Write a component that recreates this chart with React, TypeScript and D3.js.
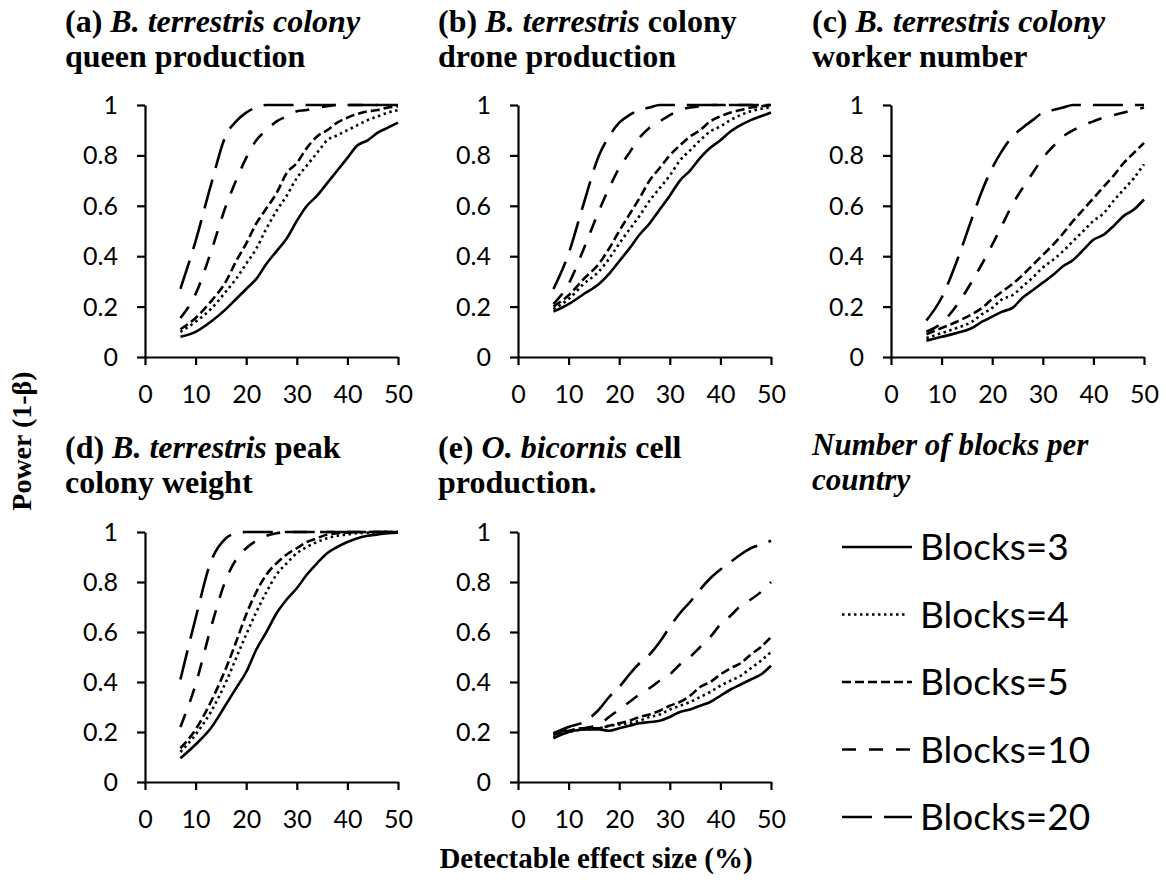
import React, { useEffect, useRef } from "react";
import * as d3 from "d3";

// effect sizes (%) at which power was read
const effectSizes = [7, 10, 13, 16, 18, 20, 22, 24, 26, 28, 30, 32, 34, 36, 38, 40, 42, 44, 46, 48, 50];

const seriesNames = ["Blocks=3", "Blocks=4", "Blocks=5", "Blocks=10", "Blocks=20"];
const xTicks = [0, 10, 20, 30, 40, 50];
const yTicks = [0, 0.2, 0.4, 0.6, 0.8, 1];

// (a) queen production: Blocks 3,4,5,10,20
const queenPower = [
  [0.08, 0.1, 0.14, 0.19, 0.23, 0.27, 0.31, 0.37, 0.42, 0.47, 0.54, 0.6, 0.64, 0.69, 0.74, 0.79, 0.84, 0.86, 0.89, 0.91, 0.93],
  [0.1, 0.14, 0.19, 0.26, 0.31, 0.37, 0.43, 0.51, 0.58, 0.64, 0.71, 0.76, 0.81, 0.86, 0.88, 0.9, 0.92, 0.94, 0.955, 0.97, 0.98],
  [0.11, 0.155, 0.22, 0.3, 0.38, 0.45, 0.53, 0.59, 0.65, 0.73, 0.77, 0.83, 0.875, 0.9, 0.93, 0.95, 0.965, 0.975, 0.98, 0.99, 0.995],
  [0.155, 0.25, 0.415, 0.6, 0.7, 0.79, 0.86, 0.9, 0.935, 0.955, 0.975, 0.98, 0.99, 0.995, 1, 1, 1, 1, 1, 1, 1],
  [0.27, 0.46, 0.68, 0.88, 0.935, 0.97, 0.99, 1, 1, 1, 1, 1, 1, 1, 1, 1, 1, 1, 1, 1, 1],
];

// (b) drone production
const dronePower = [
  [0.18, 0.21, 0.25, 0.29, 0.33, 0.38, 0.43, 0.485, 0.53, 0.585, 0.64, 0.7, 0.74, 0.79, 0.83, 0.86, 0.895, 0.92, 0.94, 0.955, 0.97],
  [0.19, 0.23, 0.29, 0.34, 0.39, 0.45, 0.505, 0.56, 0.62, 0.67, 0.72, 0.78, 0.82, 0.86, 0.895, 0.915, 0.94, 0.96, 0.975, 0.985, 0.99],
  [0.2, 0.245, 0.31, 0.37, 0.43, 0.5, 0.565, 0.63, 0.7, 0.75, 0.8, 0.84, 0.875, 0.9, 0.935, 0.955, 0.97, 0.98, 0.99, 0.995, 1],
  [0.21, 0.29, 0.43, 0.58, 0.67, 0.75, 0.81, 0.87, 0.91, 0.935, 0.96, 0.98, 0.99, 0.995, 1, 1, 1, 1, 1, 1, 1],
  [0.27, 0.41, 0.61, 0.8, 0.875, 0.93, 0.96, 0.98, 0.99, 1, 1, 1, 1, 1, 1, 1, 1, 1, 1, 1, 1],
];

// (c) worker number
const workerPower = [
  [0.065, 0.08, 0.095, 0.115, 0.14, 0.16, 0.18, 0.195, 0.235, 0.265, 0.295, 0.325, 0.36, 0.385, 0.425, 0.465, 0.485, 0.52, 0.56, 0.585, 0.625],
  [0.075, 0.095, 0.115, 0.14, 0.17, 0.195, 0.23, 0.245, 0.28, 0.315, 0.355, 0.385, 0.42, 0.46, 0.5, 0.54, 0.57, 0.62, 0.665, 0.71, 0.765],
  [0.09, 0.115, 0.14, 0.17, 0.195, 0.23, 0.26, 0.29, 0.325, 0.365, 0.405, 0.445, 0.49, 0.54, 0.585, 0.63, 0.675, 0.72, 0.77, 0.81, 0.85],
  [0.1, 0.135, 0.205, 0.3, 0.37, 0.445, 0.525, 0.605, 0.67, 0.73, 0.79, 0.835, 0.875, 0.9, 0.92, 0.935, 0.95, 0.96, 0.97, 0.98, 0.99],
  [0.145, 0.235, 0.38, 0.55, 0.66, 0.75, 0.82, 0.875, 0.91, 0.94, 0.97, 0.98, 0.99, 1, 1, 1, 1, 1, 1, 1, 1],
];

// (d) peak colony weight
const weightPower = [
  [0.095, 0.15, 0.215, 0.31, 0.375, 0.44, 0.53, 0.6, 0.675, 0.73, 0.775, 0.83, 0.875, 0.915, 0.94, 0.96, 0.975, 0.985, 0.99, 0.995, 0.997],
  [0.12, 0.19, 0.28, 0.4, 0.495, 0.59, 0.68, 0.76, 0.83, 0.875, 0.915, 0.94, 0.96, 0.975, 0.985, 0.99, 0.995, 0.997, 1, 1, 1],
  [0.135, 0.21, 0.32, 0.455, 0.56, 0.67, 0.76, 0.83, 0.875, 0.91, 0.935, 0.96, 0.975, 0.99, 0.995, 0.997, 1, 1, 1, 1, 1],
  [0.22, 0.39, 0.615, 0.81, 0.89, 0.935, 0.965, 0.985, 0.995, 1, 1, 1, 1, 1, 1, 1, 1, 1, 1, 1, 1],
  [0.41, 0.655, 0.88, 0.975, 0.995, 1, 1, 1, 1, 1, 1, 1, 1, 1, 1, 1, 1, 1, 1, 1, 1],
];

// (e) O. bicornis cell production
const cellPower = [
  [0.175, 0.2, 0.21, 0.21, 0.205, 0.215, 0.225, 0.235, 0.24, 0.245, 0.26, 0.28, 0.29, 0.305, 0.32, 0.345, 0.37, 0.39, 0.41, 0.43, 0.465],
  [0.18, 0.2, 0.21, 0.215, 0.225, 0.23, 0.235, 0.245, 0.26, 0.27, 0.29, 0.305, 0.32, 0.34, 0.36, 0.385, 0.405, 0.425, 0.455, 0.485, 0.52],
  [0.19, 0.205, 0.215, 0.215, 0.225, 0.235, 0.245, 0.26, 0.27, 0.285, 0.305, 0.32, 0.345, 0.38, 0.4, 0.43, 0.455, 0.475, 0.51, 0.54, 0.58],
  [0.19, 0.21, 0.215, 0.23, 0.26, 0.29, 0.32, 0.35, 0.375, 0.405, 0.43, 0.47, 0.5, 0.54, 0.58, 0.63, 0.665, 0.705, 0.73, 0.76, 0.8],
  [0.195, 0.22, 0.24, 0.29, 0.34, 0.38, 0.43, 0.475, 0.51, 0.56, 0.62, 0.675, 0.72, 0.77, 0.815, 0.85, 0.88, 0.91, 0.935, 0.95, 0.965],
];

const dashes = [null, "2.5,3.5", "9,4", "14,13", "30,12"];

const serif = "'Liberation Serif', 'Times New Roman', serif";
const sans = "Lato, 'Open Sans', sans-serif";

const panels = [
  { data: queenPower, left: 145, top: 105, h: 252, tx: 65, ty: 32, lh: 35,
    title: [[["(a) ", "normal"], ["B. terrestris colony", "italic"]], [["queen production", "normal"]]] },
  { data: dronePower, left: 518, top: 105, h: 252, tx: 438, ty: 32, lh: 35,
    title: [[["(b) ", "normal"], ["B. terrestris", "italic"], [" colony", "normal"]], [["drone production", "normal"]]] },
  { data: workerPower, left: 891, top: 105, h: 252, tx: 812, ty: 32, lh: 35,
    title: [[["(c) ", "normal"], ["B. terrestris colony", "italic"]], [["worker number", "normal"]]] },
  { data: weightPower, left: 145, top: 532, h: 250, tx: 65, ty: 458, lh: 35,
    title: [[["(d) ", "normal"], ["B. terrestris", "italic"], [" peak", "normal"]], [["colony weight", "normal"]]] },
  { data: cellPower, left: 518, top: 532, h: 250, tx: 438, ty: 458, lh: 35,
    title: [[["(e) ", "normal"], ["O. bicornis", "italic"], [" cell", "normal"]], [["production.", "normal"]]] },
];

const App = () => {
  const ref = useRef<SVGSVGElement>(null);

  useEffect(() => {
    const svg = d3.select(ref.current);
    svg.selectAll("*").remove();

    panels.forEach((p) => {
      const x = d3.scaleLinear().domain([0, 50]).range([p.left, p.left + 253]);
      const y = d3.scaleLinear().domain([0, 1]).range([p.top + p.h, p.top]);
      const g = svg.append("g");

      // title
      p.title.forEach((line, i) => {
        const t = g.append("text")
          .attr("x", p.tx)
          .attr("y", p.ty + i * p.lh)
          .attr("font-family", serif)
          .attr("font-weight", "bold")
          .attr("font-size", 32);
        line.forEach(([s, st]) => t.append("tspan").attr("font-style", st).text(s));
      });

      const xAxis = g.append("g")
        .attr("transform", `translate(0,${y(0)})`)
        .call(d3.axisBottom(x).tickValues(xTicks).tickSize(8).tickSizeOuter(0).tickPadding(20).tickFormat(d3.format("d")));
      const yAxis = g.append("g")
        .attr("transform", `translate(${x(0)},0)`)
        .call(d3.axisLeft(y).tickValues(yTicks).tickSize(8).tickSizeOuter(0).tickPadding(19).tickFormat((d) => String(d)));

      [xAxis, yAxis].forEach((a) => {
        a.select(".domain").attr("stroke", "#000").attr("stroke-width", 2.2);
        a.selectAll(".tick line").attr("stroke", "#000").attr("stroke-width", 2.2);
        a.selectAll(".tick text")
          .attr("fill", "#000")
          .attr("font-family", sans)
          .attr("font-size", 25);
      });
      yAxis.selectAll(".tick text").attr("dy", "0.34em");

      const line = d3.line<number>()
        .x((_, i) => x(effectSizes[i]))
        .y((d) => y(d))
        .curve(d3.curveMonotoneX);

      p.data.forEach((vals, si) => {
        g.append("path")
          .datum(vals)
          .attr("d", line)
          .attr("fill", "none")
          .attr("stroke", "#000")
          .attr("stroke-width", 2.6)
          .attr("stroke-dasharray", dashes[si]);
      });
    });

    // axis titles
    svg.append("text")
      .attr("transform", "translate(31,441) rotate(-90)")
      .attr("text-anchor", "middle")
      .attr("font-family", serif)
      .attr("font-weight", "bold")
      .attr("font-size", 28)
      .text("Power (1-β)");

    svg.append("text")
      .attr("x", 596)
      .attr("y", 868)
      .attr("text-anchor", "middle")
      .attr("font-family", serif)
      .attr("font-weight", "bold")
      .attr("font-size", 29)
      .text("Detectable effect size (%)");

    // legend
    const lg = svg.append("g");
    ["Number of blocks per", "country"].forEach((s, i) => {
      lg.append("text")
        .attr("x", 812)
        .attr("y", 455 + i * 35)
        .attr("font-family", serif)
        .attr("font-weight", "bold")
        .attr("font-style", "italic")
        .attr("font-size", 31)
        .text(s);
    });
    const ly = d3.scalePoint<string>().domain(seriesNames).range([547, 817]);
    seriesNames.forEach((name, i) => {
      lg.append("line")
        .attr("x1", 842)
        .attr("x2", i === 1 ? 906 : 912)
        .attr("y1", ly(name))
        .attr("y2", ly(name))
        .attr("stroke", "#000")
        .attr("stroke-width", 2.6)
        .attr("stroke-dasharray", dashes[i]);
      lg.append("text")
        .attr("x", 920)
        .attr("y", ly(name)! + 13)
        .attr("font-family", sans)
        .attr("font-size", 37)
        .text(name);
    });
  }, []);

  return (
    <svg ref={ref} width={1166} height={892} style={{ position: "absolute", left: 0, top: 0, background: "#fff" }} />
  );
};

export default App;
